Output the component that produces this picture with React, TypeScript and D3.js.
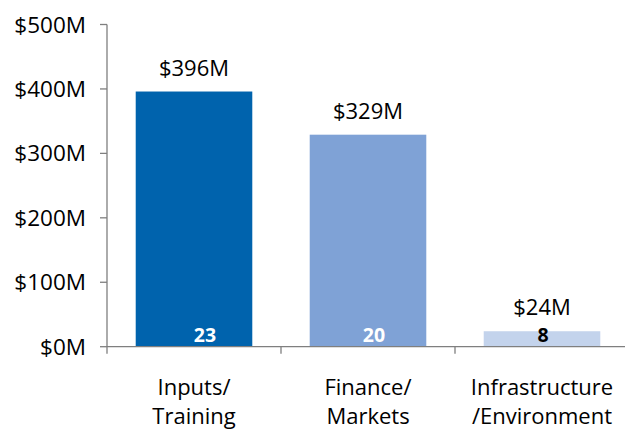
import React from "react";
import * as d3 from "d3";

const categories = ["Inputs/\nTraining", "Finance/\nMarkets", "Infrastructure\n/Environment"];
const values = [396, 329, 24];
const counts = [23, 20, 8];
const valueLabels = ["$396M", "$329M", "$24M"];
const yTicks = [0, 100, 200, 300, 400, 500];
const colors = ["#0063AD", "#7FA2D6", "#C3D3EC"];
const countColors = ["#ffffff", "#ffffff", "#000000"];
const countShift = [11, 6, 1];

const W = 625;
const H = 430;
const FONT = "'Open Sans', 'Noto Sans', sans-serif";

export default function App() {
  const left = 107;
  const right = 629;
  const top = 24.5;
  const bottom = 346.7;

  const x = d3.scaleBand<number>().domain(d3.range(categories.length)).range([left, right]).paddingInner(0.33).paddingOuter(0.165);
  const xb = d3.scaleBand<number>().domain(d3.range(categories.length)).range([left, right]);
  const y = d3.scaleLinear().domain([0, 500]).range([bottom, top]);

  return (
    <div style={{ position: "absolute", left: 0, top: 0 }}>
      <svg width={W} height={H} style={{ display: "block" }}>
        <rect width={W} height={H} fill="#fff" />
        {values.map((v, i) => (
          <rect key={i} x={x(i)} y={y(v)} width={x.bandwidth()} height={y(0) - y(v)} fill={colors[i]} />
        ))}
        {/* y axis */}
        <line x1={left} x2={left} y1={top} y2={bottom} stroke="#7f7f7f" strokeWidth={1.3} />
        {yTicks.map((t) => (
          <g key={t}>
            <line x1={left - 7} x2={left} y1={y(t)} y2={y(t)} stroke="#7f7f7f" strokeWidth={1.3} />
            <text x={86} y={y(t) + 8} textAnchor="end" fontFamily={FONT} fontSize={22.5} fill="#000">
              {`$${t}M`}
            </text>
          </g>
        ))}
        {/* x axis */}
        <line x1={left} x2={right} y1={bottom} y2={bottom} stroke="#7f7f7f" strokeWidth={1.3} />
        {d3.range(categories.length + 1).map((i) => {
          const xx = i < categories.length ? (xb(i) as number) : right;
          return <line key={i} x1={xx} x2={xx} y1={bottom} y2={bottom + 7} stroke="#7f7f7f" strokeWidth={1.3} />;
        })}
        {values.map((v, i) => {
          const cx = (x(i) as number) + x.bandwidth() / 2;
          return (
            <g key={i}>
              <text x={cx} y={y(v) - 16} textAnchor="middle" fontFamily={FONT} fontSize={22} fill="#000">
                {valueLabels[i]}
              </text>
              <text x={cx + countShift[i]} y={342} textAnchor="middle" fontFamily={FONT} fontSize={19.5} fontWeight="bold" fill={countColors[i]}>
                {counts[i]}
              </text>
              {categories[i].split("\n").map((line, j) => (
                <text key={j} x={(xb(i) as number) + xb.bandwidth() / 2} y={395 + j * 29} textAnchor="middle" fontFamily={FONT} fontSize={22} fill="#000">
                  {line}
                </text>
              ))}
            </g>
          );
        })}
      </svg>
    </div>
  );
}
